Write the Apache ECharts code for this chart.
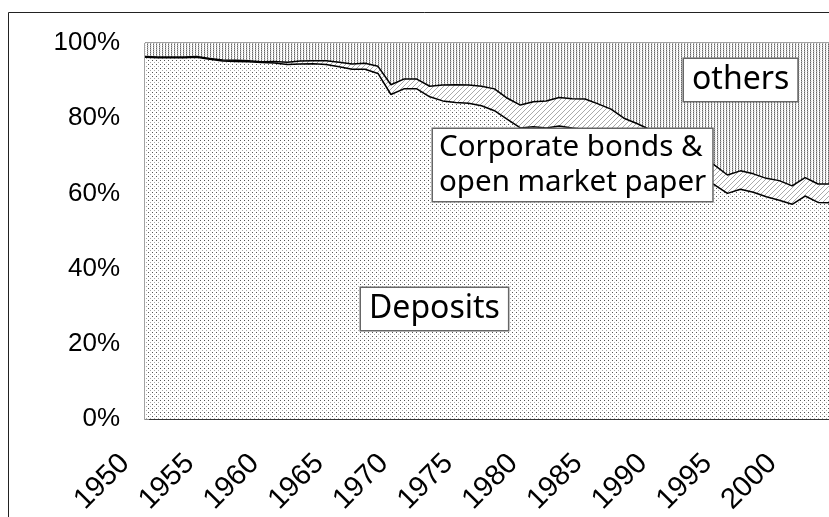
<!DOCTYPE html>
<html>
<head>
<meta charset="utf-8">
<script src="https://cdn.jsdelivr.net/npm/echarts@6/dist/echarts.min.js"></script>
<style>
html,body{margin:0;padding:0;background:#fff;overflow:hidden;width:829px;height:517px;}
#chart{width:840px;height:517px;}
</style>
</head>
<body>
<div id="chart"></div>
<script>
const years = ['1950','1951','1952','1953','1954','1955','1956','1957','1958','1959',
  '1960','1961','1962','1963','1964','1965','1966','1967','1968','1969',
  '1970','1971','1972','1973','1974','1975','1976','1977','1978','1979',
  '1980','1981','1982','1983','1984','1985','1986','1987','1988','1989',
  '1990','1991','1992','1993','1994','1995','1996','1997','1998','1999',
  '2000','2001','2002','2003'];

const deposits = [96.2,96.1,96.1,96.1,96.2,95.7,95.2,95.1,95.0,94.8,
  94.7,94.3,94.4,94.5,94.3,93.7,93.0,93.0,91.9,86.3,
  87.8,87.8,85.7,84.6,84.2,84.0,83.3,82.0,79.7,77.4,
  77.7,77.4,77.9,77.4,77.0,76.2,75.0,73.5,72.0,70.2,
  68.5,66.5,65.0,64.0,62.3,60.0,61.1,60.3,59.1,58.2,
  57.1,59.3,57.6,57.5];

const bonds = [0.2,0.2,0.2,0.2,0.2,0.2,0.3,0.3,0.3,0.2,
  0.4,0.6,0.8,0.8,1.0,1.2,1.4,1.6,1.9,2.6,
  2.6,2.6,2.8,4.2,4.7,4.8,5.2,5.8,5.6,6.1,
  6.7,7.2,7.6,7.8,8.1,7.6,7.4,6.5,6.6,6.8,
  7.0,7.0,6.5,5.7,5.2,4.9,4.9,4.9,4.9,5.2,
  4.9,4.9,4.9,5.0];

const others = [3.6,3.7,3.7,3.7,3.6,4.1,4.5,4.6,4.7,5.0,
  4.9,5.1,4.8,4.7,4.7,5.1,5.6,5.4,6.2,11.1,
  9.6,9.6,11.5,11.2,11.1,11.2,11.5,12.2,14.7,16.5,
  15.6,15.4,14.5,14.8,14.9,16.2,17.6,20.0,21.4,23.0,
  24.5,26.5,28.5,30.3,32.5,35.1,34.0,34.8,36.0,36.6,
  38.0,35.8,37.5,37.5];

const yTicks = [0, 20, 40, 60, 80, 100];
const seriesNames = ['Deposits', 'Corporate bonds &\nopen market paper', 'others'];

function makePattern(w, h, pixels) {
  const c = document.createElement('canvas');
  c.width = w; c.height = h;
  const ctx = c.getContext('2d');
  ctx.fillStyle = '#fff';
  ctx.fillRect(0, 0, w, h);
  pixels.forEach(p => { ctx.fillStyle = p[2]; ctx.fillRect(p[0], p[1], 1, 1); });
  return { image: c, repeat: 'repeat' };
}

const depPattern = makePattern(4, 4, [[0,0,'#555'],[2,2,'#aaa']]);
const bondPattern = makePattern(5, 5, [[4,0,'#aaa'],[3,1,'#aaa'],[2,2,'#aaa'],[1,3,'#aaa'],[0,4,'#aaa']]);
const othPattern = makePattern(3, 2, [[0,0,'#666'],[0,1,'#aaa'],[1,1,'#ddd']]);

const chart = echarts.init(document.getElementById('chart'));
const FONT = "'Liberation Sans', Arial, sans-serif";
const BOXFONT = "'Noto Sans', sans-serif";

const option = {
  animation: false,
  grid: [
    { left: 145, right: 9, top: 43, bottom: 98, show: true, borderColor: '#444', borderWidth: 1, backgroundColor: 'transparent' },
    { left: 125, right: 29, top: 43, bottom: 98, show: false }
  ],
  xAxis: [
    { type: 'category', gridIndex: 0, data: years, boundaryGap: false,
      axisLine: { show: true, lineStyle: { color: '#333', width: 1 } },
      axisTick: { show: true, inside: true, interval: 0, length: 4, lineStyle: { color: '#aaa' } },
      axisLabel: { show: false }, splitLine: { show: false } },
    { type: 'category', gridIndex: 1, data: years, boundaryGap: false,
      axisLine: { show: false }, axisTick: { show: false }, splitLine: { show: false },
      axisLabel: { show: true, interval: 4, rotate: 45, margin: 41, fontSize: 29, color: '#000', fontFamily: FONT } }
  ],
  yAxis: [
    { type: 'value', gridIndex: 0, min: yTicks[0], max: yTicks[yTicks.length-1], interval: 20,
      axisLine: { show: true, lineStyle: { color: '#888' } },
      axisTick: { show: true, inside: true, length: 4, lineStyle: { color: '#888' } },
      splitLine: { show: false },
      axisLabel: { formatter: '{value}%', fontSize: 26, color: '#000', margin: 25, fontFamily: FONT } },
    { type: 'value', gridIndex: 1, show: false, min: 0, max: 100 }
  ],
  series: [
    { name: seriesNames[0], type: 'line', stack: 'total', data: deposits, xAxisIndex: 0, yAxisIndex: 0,
      showSymbol: false, z: 4, lineStyle: { color: '#000', width: 1.5 },
      areaStyle: { color: depPattern, opacity: 1 } },
    { name: seriesNames[1], type: 'line', stack: 'total', data: bonds, xAxisIndex: 0, yAxisIndex: 0,
      showSymbol: false, z: 3, lineStyle: { color: '#000', width: 1.5 },
      areaStyle: { color: bondPattern, opacity: 1 } },
    { name: seriesNames[2], type: 'line', stack: 'total', data: others, xAxisIndex: 0, yAxisIndex: 0,
      showSymbol: false, z: 2, lineStyle: { width: 0, opacity: 0 },
      areaStyle: { color: othPattern, opacity: 1 } }
  ],
  graphic: [
    { type: 'rect', z: 100, silent: true, shape: { x: 8.5, y: 12.5, width: 1000, height: 1000 },
      style: { fill: 'none', stroke: '#222', lineWidth: 1 } },
    { type: 'text', z: 100, x: 684, y: 59, style: { text: seriesNames[2], font: '32px ' + BOXFONT, fill: '#000',
      backgroundColor: '#fff', borderColor: '#666', borderWidth: 1.5, padding: [3, 8, 3, 8], lineHeight: 36 } },
    { type: 'text', z: 100, x: 433, y: 129, style: { text: seriesNames[1], font: '29.5px ' + BOXFONT, fill: '#000',
      backgroundColor: '#fff', borderColor: '#666', borderWidth: 1.5, padding: [1, 6, 1, 6], lineHeight: 35 } },
    { type: 'text', z: 100, x: 361, y: 288, style: { text: seriesNames[0], font: '32px ' + BOXFONT, fill: '#000',
      backgroundColor: '#fff', borderColor: '#666', borderWidth: 1.5, padding: [3, 8, 3, 8], lineHeight: 36 } }
  ]
};
chart.setOption(option);
</script>
</body>
</html>
